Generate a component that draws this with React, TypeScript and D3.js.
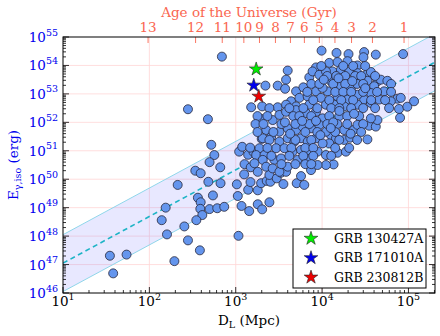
import React, { useEffect, useRef } from 'react';
import * as d3 from 'd3';

const width = 440;
const height = 336;
const margin = { top: 37, right: 5, bottom: 43, left: 63 };

// log10 D_L (Mpc), log10 E_iso (erg)
const grbPoints: [number, number][] = [
  [2.84, 54.31], [2.447, 52.46], [2.678, 52.11], [2.717, 51.21], [2.752, 50.85], [2.697, 50.6], [2.821, 50.42],
  [2.532, 50.3], [2.594, 50.21], [2.683, 49.91], [2.824, 49.86], [2.328, 49.8], [2.562, 49.35], [2.594, 49.19],
  [2.736, 49.43], [2.59, 48.96], [2.613, 48.74], [2.697, 48.95], [2.786, 48.98], [2.867, 49.03], [2.544, 48.56],
  [2.189, 49.0], [2.143, 48.56], [2.204, 48.06], [2.405, 48.34], [2.447, 47.85], [2.585, 47.5], [2.29, 47.12],
  [1.543, 47.31], [1.736, 47.35], [1.581, 46.69], [3.032, 48.01],
  [3.013, 49.82], [3.024, 49.41], [3.067, 49.06], [3.156, 48.88], [3.255, 49.12], [3.306, 48.94], [3.39, 49.19],
  [3.144, 49.63], [3.255, 49.61], [3.04, 50.97], [3.075, 51.14], [3.102, 50.53], [3.098, 50.17], [3.171, 49.9],
  [3.174, 50.42], [3.144, 50.86], [3.206, 50.96], [3.255, 50.26], [3.301, 51.42], [3.294, 49.86], [3.359, 49.94],
  [3.402, 49.91], [3.39, 50.15], [3.475, 50.03], [3.525, 50.23], [3.583, 50.26], [3.552, 49.83], [3.706, 49.86],
  [3.756, 50.11], [3.794, 49.8], [3.872, 50.32],
  [4.903, 52.16], [4.891, 52.47], [4.987, 52.55], [4.525, 51.4], [4.179, 50.93], [4.276, 50.97], [4.133, 50.52],
  [4.045, 50.5], [4.256, 51.38], [4.326, 51.46], [4.256, 51.73], [4.364, 51.73], [4.41, 51.91], [4.545, 51.88],
  [4.622, 51.85], [4.641, 52.08], [4.565, 52.14], [4.103, 51.55], [4.161, 51.44], [4.083, 51.26],
  [3.994, 54.52], [4.167, 54.44], [4.306, 54.4], [4.487, 54.47], [4.479, 54.29], [4.622, 54.38], [4.938, 54.4],
  [4.083, 54.09], [4.179, 54.12], [4.294, 54.15], [4.41, 54.0], [4.121, 53.79], [4.218, 53.85], [4.314, 53.79],
  [4.41, 53.73], [4.525, 53.7], [4.565, 53.77], [4.525, 53.46], [4.641, 53.44], [4.68, 53.5], [4.756, 53.46],
  [4.603, 53.27], [4.718, 53.09], [4.565, 53.03], [4.872, 52.83], [4.911, 52.86], [5.065, 52.74], [4.796, 52.74],
  [4.661, 52.8], [4.487, 52.8], [4.41, 52.97], [4.334, 53.21], [4.218, 53.27], [4.103, 53.44], [4.064, 53.09],
  [4.179, 52.91], [4.294, 52.8], [4.41, 52.62], [4.565, 52.68], [4.141, 52.62], [4.256, 52.56],
  [3.602, 53.82], [3.583, 53.5], [3.486, 53.29], [3.572, 53.18], [3.344, 53.29], [3.179, 52.53], [3.306, 52.56],
  [3.486, 52.53], [3.699, 53.09], [3.783, 53.23], [3.852, 53.58], [3.93, 53.93], [3.89, 53.79], [3.968, 53.67],
  [4.045, 53.79], [3.641, 52.74], [3.737, 52.86], [3.833, 52.91], [3.93, 53.09], [4.006, 53.21], [3.987, 52.86],
  [3.852, 52.62], [3.699, 52.56], [3.583, 52.62], [4.045, 52.62],
  [3.294, 52.12], [3.428, 52.08], [3.506, 52.26], [3.583, 52.37], [3.699, 52.43], [3.814, 52.32], [3.93, 52.37],
  [4.006, 52.14], [3.352, 51.73], [3.313, 51.44], [3.41, 51.49], [3.506, 51.67], [3.602, 51.79], [3.699, 51.73],
  [3.775, 51.85], [3.872, 51.79], [3.968, 51.91], [4.045, 51.67], [3.506, 51.32], [3.602, 51.44], [3.679, 51.32],
  [3.756, 51.44], [3.833, 51.32], [3.93, 51.44], [4.006, 51.26], [3.468, 51.09], [3.564, 51.09], [3.659, 50.97],
  [3.756, 51.03], [3.852, 50.97], [3.948, 50.97], [4.045, 50.85], [3.167, 51.11], [3.275, 51.09], [3.237, 50.85],
  [3.333, 50.85], [3.313, 50.68], [3.448, 50.68], [3.525, 50.73], [3.717, 50.68], [3.852, 50.71], [3.948, 50.5],
  [3.217, 50.56], [3.352, 50.44], [3.428, 50.38], [3.602, 50.44], [3.506, 50.26],
  [3.991, 53.98], [4.245, 53.98], [4.36, 53.98], [4.499, 53.98],
  [4.06, 53.63], [4.164, 53.63], [4.268, 53.63], [4.383, 53.63], [4.453, 53.63], [4.614, 53.63],
  [3.875, 53.35], [3.968, 53.35], [4.129, 53.35], [4.268, 53.35], [4.406, 53.35], [4.476, 53.35], [4.799, 53.35],
  [3.829, 53.07], [4.152, 53.07], [4.245, 53.07], [4.337, 53.07], [4.476, 53.07], [4.637, 53.07], [4.799, 53.07],
  [3.898, 52.78], [4.083, 52.78], [4.222, 52.78], [4.36, 52.78], [4.568, 52.78], [4.73, 52.78],
  [3.39, 52.5], [3.621, 52.5], [3.783, 52.5], [3.945, 52.5], [4.106, 52.5], [4.199, 52.5], [4.337, 52.5],
  [4.476, 52.5], [4.614, 52.5], [4.776, 52.5],
  [3.252, 52.22], [3.367, 52.22], [3.667, 52.22], [3.737, 52.22], [3.875, 52.22], [4.083, 52.22], [4.199, 52.22],
  [4.291, 52.22], [4.43, 52.22],
  [3.229, 51.94], [3.321, 51.94], [3.529, 51.94], [3.691, 51.94], [3.852, 51.94], [4.06, 51.94], [4.176, 51.94],
  [4.291, 51.94], [4.476, 51.94],
  [3.252, 51.66], [3.436, 51.66], [3.806, 51.66], [3.945, 51.66], [4.152, 51.66], [4.453, 51.66],
  [3.39, 51.38], [3.691, 51.38], [3.875, 51.38], [4.199, 51.38], [4.406, 51.38],
  [3.367, 51.1], [3.644, 51.1], [3.806, 51.1], [3.898, 51.1], [4.152, 51.1], [4.314, 51.1],
  [3.413, 50.82], [3.621, 50.82], [3.783, 50.82], [3.898, 50.82], [4.106, 50.82],
  [3.529, 50.53], [3.691, 50.53], [3.806, 50.53], [3.875, 50.53],
  [4.02, 53.5], [4.19, 53.55], [4.35, 53.45], [4.5, 53.2], [4.2, 52.4], [4.37, 52.3], [3.93, 52.05],
  [4.13, 52.0], [3.77, 52.05], [3.57, 52.0], [3.63, 51.6], [3.98, 51.55], [4.1, 51.8], [4.33, 51.6],
];

const highlightNames = ['GRB 130427A', 'GRB 171010A', 'GRB 230812B'];
const highlightLogDL = [3.237, 3.209, 3.267];
const highlightLogE = [53.87, 53.3, 52.91];
const highlightColors = ['#00ee00', '#0000ee', '#ee0000'];

// top axis: age of the universe (Gyr) at the D_L (Mpc) where it sits
const ageTicks = [13, 12, 11, 10, 9, 8, 7, 6, 5, 4, 3, 2, 1];
const ageTickDL = [96.6, 343, 698, 1242, 1884, 2884, 4300, 6237, 9290, 14090, 21930, 38300, 88900];

const xDecades = [1, 2, 3, 4, 5];
const yDecades = [46, 47, 48, 49, 50, 51, 52, 53, 54, 55];

// fitted relation: log E = fitIntercept + fitSlope * (log D_L - 1), band of +-fitWidth dex
const fitIntercept = 47.05;
const fitSlope = 1.64;
const fitWidth = 1.0;

const serif = '"DejaVu Serif", serif';
const ageColor = '#fa6650';
const blue = '#0000ee';

const App = () => {
  const svgRef = useRef<SVGSVGElement>(null);

  useEffect(() => {
    document.body.style.margin = '0';
    const svg = d3.select(svgRef.current);
    svg.selectAll('*').remove();

    const x0 = margin.left, x1 = width - margin.right;
    const y0 = height - margin.bottom, y1 = margin.top;

    const x = d3.scaleLog().domain([10, 2.03e5]).range([x0, x1]);
    const y = d3.scaleLog().domain([1e46, 1e55]).range([y0, y1]);

    svg.append('defs').append('clipPath').attr('id', 'plotclip')
      .append('rect').attr('x', x0).attr('y', y1).attr('width', x1 - x0).attr('height', y0 - y1);

    // grid
    const grid = svg.append('g').attr('stroke', '#ffd6d6').attr('stroke-width', 0.8);
    grid.selectAll('line.v').data(xDecades.slice(1)).join('line')
      .attr('x1', d => x(10 ** d)).attr('x2', d => x(10 ** d)).attr('y1', y0).attr('y2', y1);
    grid.selectAll('line.h').data(yDecades.slice(1, -1)).join('line')
      .attr('y1', d => y(10 ** d)).attr('y2', d => y(10 ** d)).attr('x1', x0).attr('x2', x1);

    // band
    const dEnds = x.domain();
    const fit = (d: number, off: number) => 10 ** (fitIntercept + off + fitSlope * (Math.log10(d) - 1));
    const band = svg.append('g').attr('clip-path', 'url(#plotclip)');
    band.append('path')
      .datum(dEnds)
      .attr('fill', 'rgba(120,120,255,0.17)')
      .attr('d', d3.area<number>().x(d => x(d)).y0(d => y(fit(d, -fitWidth))).y1(d => y(fit(d, fitWidth))));
    [-fitWidth, fitWidth].forEach(off => {
      band.append('path').datum(dEnds)
        .attr('fill', 'none').attr('stroke', '#8fd6ea').attr('stroke-width', 1)
        .attr('d', d3.line<number>().x(d => x(d)).y(d => y(fit(d, off))));
    });
    band.append('path').datum(dEnds)
      .attr('fill', 'none').attr('stroke', '#1db4c6').attr('stroke-width', 1.6)
      .attr('stroke-dasharray', '5,3.5')
      .attr('d', d3.line<number>().x(d => x(d)).y(d => y(fit(d, 0))));

    // points
    svg.append('g').attr('clip-path', 'url(#plotclip)')
      .selectAll('circle').data(grbPoints).join('circle')
      .attr('cx', d => x(10 ** d[0])).attr('cy', d => y(10 ** d[1])).attr('r', 4.5)
      .attr('fill', '#6495ed').attr('stroke', '#26263a').attr('stroke-width', 0.8);

    const star = d3.symbol().type(d3.symbolStar).size(58);
    svg.append('g').selectAll('path').data(highlightNames).join('path')
      .attr('transform', (_, i) => `translate(${x(10 ** highlightLogDL[i])},${y(10 ** highlightLogE[i])})`)
      .attr('d', star()).attr('fill', (_, i) => highlightColors[i])
      .attr('stroke', '#222').attr('stroke-width', 0.6);

    // ticks
    const ticks = svg.append('g').attr('stroke', '#000').attr('stroke-width', 0.8);
    const xMinor: number[] = [];
    [1, 2, 3, 4, 5].forEach(e => { for (let m = 2; m <= 9; m++) { const v = m * 10 ** e; if (v < 2.03e5) xMinor.push(v); } });
    ticks.selectAll('line.xmaj').data(xDecades).join('line')
      .attr('x1', d => x(10 ** d)).attr('x2', d => x(10 ** d)).attr('y1', y0).attr('y2', y0 - 6);
    ticks.selectAll('line.xmin').data(xMinor).join('line')
      .attr('x1', d => x(d)).attr('x2', d => x(d)).attr('y1', y0).attr('y2', y0 - 3);
    const yMinor: number[] = [];
    yDecades.slice(0, -1).forEach(e => { for (let m = 2; m <= 9; m++) yMinor.push(m * 10 ** e); });
    [x0, x1].forEach(xe => {
      const dir = xe === x0 ? 1 : -1;
      ticks.append('g').selectAll('line').data(yDecades).join('line')
        .attr('y1', d => y(10 ** d)).attr('y2', d => y(10 ** d)).attr('x1', xe).attr('x2', xe + dir * 6);
      ticks.append('g').selectAll('line').data(yMinor).join('line')
        .attr('y1', d => y(d)).attr('y2', d => y(d)).attr('x1', xe).attr('x2', xe + dir * 3);
    });
    svg.append('g').attr('stroke', ageColor).attr('stroke-width', 0.9)
      .selectAll('line').data(ageTickDL).join('line')
      .attr('x1', d => x(d)).attr('x2', d => x(d)).attr('y1', y1).attr('y2', y1 + 6);

    // frame
    svg.append('rect').attr('x', x0).attr('y', y1).attr('width', x1 - x0).attr('height', y0 - y1)
      .attr('fill', 'none').attr('stroke', '#000').attr('stroke-width', 1);

    // tick labels
    const yl = svg.append('g').attr('font-family', serif).attr('fill', blue).attr('text-anchor', 'end');
    yDecades.forEach(e => {
      const t = yl.append('text').attr('x', x0 - 5).attr('y', y(10 ** e) + 5).attr('font-size', 13.5);
      t.append('tspan').text('10');
      t.append('tspan').attr('font-size', 9.5).attr('dy', -6.5).text(String(e));
    });
    const xl = svg.append('g').attr('font-family', serif).attr('fill', '#000').attr('text-anchor', 'middle');
    xDecades.forEach(e => {
      const t = xl.append('text').attr('x', x(10 ** e)).attr('y', y0 + 13).attr('font-size', 13.5);
      t.append('tspan').text('10');
      t.append('tspan').attr('font-size', 9.5).attr('dy', -6.5).text(String(e));
    });
    svg.append('g').attr('font-family', serif).attr('fill', ageColor).attr('text-anchor', 'middle')
      .attr('font-size', 13.5)
      .selectAll('text').data(ageTicks).join('text')
      .attr('x', (_, i) => x(ageTickDL[i])).attr('y', y1 - 5).text(d => String(d));

    // axis titles
    const xt = svg.append('text').attr('font-family', serif).attr('font-size', 13.5)
      .attr('text-anchor', 'middle').attr('x', (x0 + x1) / 2).attr('y', height - 11);
    xt.append('tspan').text('D');
    xt.append('tspan').attr('font-size', 9.5).attr('dy', 3).text('L');
    xt.append('tspan').attr('dy', -3).text(' (Mpc)');

    const yt = svg.append('text').attr('font-family', serif).attr('font-size', 13.5).attr('fill', blue)
      .attr('text-anchor', 'middle').attr('transform', `translate(18,${(y0 + y1) / 2}) rotate(-90)`);
    yt.append('tspan').text('E');
    yt.append('tspan').attr('font-size', 9.5).attr('dy', 3).text('γ,iso');
    yt.append('tspan').attr('dy', -3).text(' (erg)');

    svg.append('text').attr('font-family', serif).attr('font-size', 13.5).attr('fill', ageColor)
      .attr('text-anchor', 'middle').attr('x', (x0 + x1) / 2).attr('y', 17)
      .text('Age of the Universe (Gyr)');

    // legend
    const lg = svg.append('g').attr('transform', 'translate(293,229)');
    lg.append('rect').attr('width', 133).attr('height', 59).attr('fill', '#fff')
      .attr('stroke', '#000').attr('stroke-width', 1);
    const rows = lg.selectAll('g').data(highlightNames).join('g')
      .attr('transform', (_, i) => `translate(0,${9.5 + i * 19.4})`);
    rows.append('path').attr('transform', 'translate(18,0)').attr('d', star())
      .attr('fill', (_, i) => highlightColors[i]).attr('stroke', '#222').attr('stroke-width', 0.6);
    rows.append('text').attr('x', 41).attr('y', 4.5).attr('font-family', serif).attr('font-size', 12.5)
      .text(d => d);
  }, []);

  return <svg ref={svgRef} width={width} height={height} style={{ display: 'block' }} />;
};

export default App;
